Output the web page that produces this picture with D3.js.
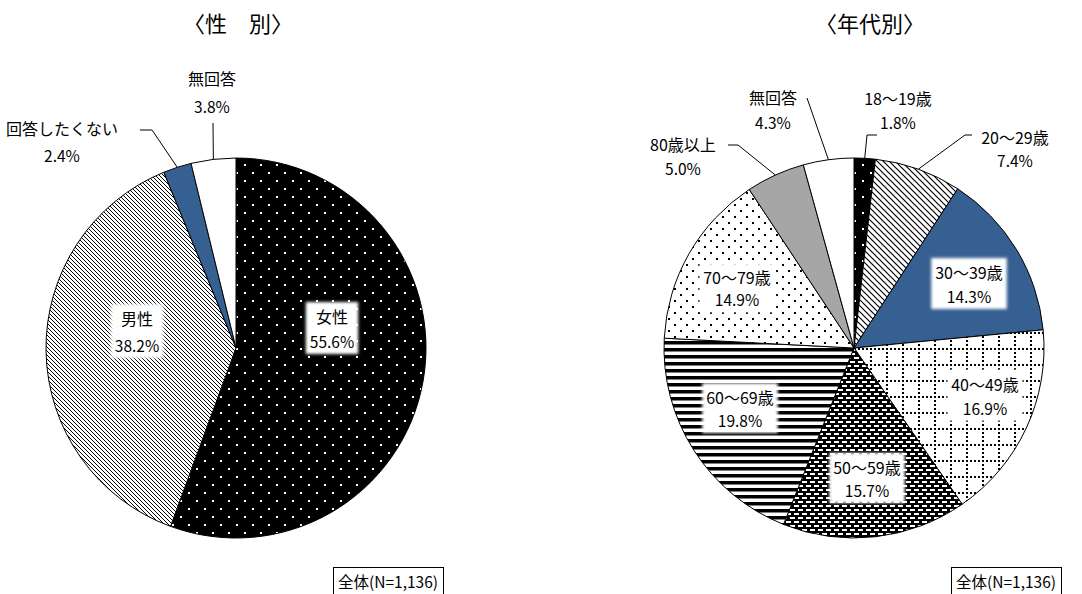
<!DOCTYPE html>
<html lang="ja">
<head>
<meta charset="utf-8">
<script src="https://cdn.jsdelivr.net/npm/d3@7/dist/d3.min.js"></script>
<style>
  html, body { margin: 0; padding: 0; background: #fff; }
  svg { display: block; font-family: "Noto Sans CJK JP", "Noto Sans", sans-serif; }
</style>
</head>
<body>
<svg id="chart" width="1082" height="594"></svg>
<script>
// Respondent breakdown (percent, N=1,136)
const genderTitle = "〈性　別〉";
const genderLabels = ["女性", "男性", "回答したくない", "無回答"];
const genderValues = [55.6, 38.2, 2.4, 3.8];

const ageTitle = "〈年代別〉";
const ageLabels = ["18〜19歳", "20〜29歳", "30〜39歳", "40〜49歳", "50〜59歳", "60〜69歳", "70〜79歳", "80歳以上", "無回答"];
const ageValues = [1.8, 7.4, 14.3, 16.9, 15.7, 19.8, 14.9, 5.0, 4.3];

const totalLabel = "全体(N=1,136)";

const svg = d3.select("#chart");
const defs = svg.append("defs");

// ---- fill patterns ----
function pattern(id, w, h, bg, draw) {
  const p = defs.append("pattern").attr("id", id)
    .attr("patternUnits", "userSpaceOnUse").attr("width", w).attr("height", h);
  p.append("rect").attr("width", w).attr("height", h).attr("fill", bg);
  draw(p);
}
// black with white dots
pattern("pDotsW", 16, 16, "#000", p => {
  p.append("rect").attr("x", 0).attr("y", 0).attr("width", 2).attr("height", 2).attr("fill", "#fff");
  p.append("rect").attr("x", 8).attr("y", 8).attr("width", 2).attr("height", 2).attr("fill", "#fff");
});
// fine downward diagonal
pattern("pDiagFine", 4, 4, "#fff", p => {
  p.append("path").attr("d", "M-1,-1L5,5M-1,3L1,5M3,-1L5,1")
    .attr("stroke", "#000").attr("stroke-width", 1.0);
});
// wide downward diagonal
pattern("pDiagWide", 6, 6, "#fff", p => {
  p.append("path").attr("d", "M-1,-1L7,7M-1,5L1,7M5,-1L7,1")
    .attr("stroke", "#000").attr("stroke-width", 1.2);
});
// dotted grid
pattern("pGrid", 16, 16, "#fff", p => {
  for (let i = 0; i < 16; i += 4) {
    p.append("rect").attr("x", i).attr("y", 0).attr("width", 2).attr("height", 2).attr("fill", "#000");
    if (i > 0) p.append("rect").attr("x", 0).attr("y", i).attr("width", 2).attr("height", 2).attr("fill", "#000");
  }
});
// black with white dashes (brick)
pattern("pDash", 8, 8, "#000", p => {
  p.append("rect").attr("x", 0).attr("y", 1).attr("width", 5).attr("height", 2).attr("fill", "#fff");
  p.append("rect").attr("x", 4).attr("y", 5).attr("width", 5).attr("height", 2).attr("fill", "#fff");
  p.append("rect").attr("x", -4).attr("y", 5).attr("width", 5).attr("height", 2).attr("fill", "#fff");
});
// horizontal stripes
pattern("pHoriz", 7, 7, "#fff", p => {
  p.append("rect").attr("x", 0).attr("y", 0).attr("width", 7).attr("height", 3.5).attr("fill", "#000");
});
// sparse black dots
pattern("pDotsB", 12, 12, "#fff", p => {
  p.append("rect").attr("x", 0).attr("y", 0).attr("width", 2).attr("height", 2).attr("fill", "#000");
  p.append("rect").attr("x", 6).attr("y", 6).attr("width", 2).attr("height", 2).attr("fill", "#000");
});

// soft white backdrop for inside labels
const glow = defs.append("filter").attr("id", "soft")
  .attr("x", "-30%").attr("y", "-30%").attr("width", "160%").attr("height", "160%");
glow.append("feGaussianBlur").attr("stdDeviation", 1.8);

const genderFills = ["url(#pDotsW)", "url(#pDiagFine)", "#376092", "#fff"];
const ageFills = ["url(#pDotsW)", "url(#pDiagWide)", "#376092", "url(#pGrid)", "url(#pDash)",
                  "url(#pHoriz)", "url(#pDotsB)", "#a6a6a6", "#fff"];

// label layout: inside labels get a soft white box, outside labels get a leader line
const genderLayout = [
  { x: 332, y: 316, gap: 25, inside: true },
  { x: 137, y: 318, gap: 27, inside: true },
  { x: 62, y: 128, gap: 27, leader: [[152, 130], [140, 130]] },
  { x: 212, y: 78, gap: 28, leader: [[213, 123]] }
];
const ageLayout = [
  { x: 898, y: 98, gap: 24, leader: [[867, 135], [877, 135]] },
  { x: 1015, y: 137, gap: 23, leader: [[965, 135], [972, 135]] },
  { x: 969, y: 272, gap: 24, inside: true },
  { x: 985, y: 384, gap: 24, inside: true },
  { x: 867, y: 467, gap: 23, inside: true },
  { x: 740, y: 397, gap: 23, inside: true },
  { x: 737, y: 277, gap: 22, inside: true },
  { x: 683, y: 144, gap: 24, leader: [[738, 145], [728, 145]] },
  { x: 773, y: 97, gap: 25, leader: [[807, 98]] }
];

function drawPie(cx, cy, r, title, titleX, labels, values, fills, layout, boxX) {
  const g = svg.append("g");
  const pie = d3.pie().sort(null).value(d => d)(values);
  const arc = d3.arc().innerRadius(0).outerRadius(r);

  const slices = g.append("g").attr("transform", `translate(${cx},${cy})`);
  slices.selectAll("path").data(pie).join("path")
    .attr("d", arc)
    .attr("fill", (d, i) => fills[i])
    .attr("stroke", "#000").attr("stroke-width", 1);

  g.append("text").attr("x", titleX).attr("y", 22)
    .attr("text-anchor", "middle").attr("dominant-baseline", "central")
    .attr("font-size", 22).attr("fill", "#000").text(title);

  pie.forEach((d, i) => {
    const L = layout[i];
    const pct = values[i].toFixed(1) + "%";
    if (L.leader) {
      const a = (d.startAngle + d.endAngle) / 2;
      const pts = [[cx + r * Math.sin(a), cy - r * Math.cos(a)], ...L.leader];
      g.append("path").attr("d", d3.line()(pts))
        .attr("fill", "none").attr("stroke", "#000").attr("stroke-width", 1);
    }
    const lg = g.append("g");
    const bg = lg.append("rect");
    const t1 = lg.append("text").attr("x", L.x).attr("y", L.y)
      .attr("text-anchor", "middle").attr("dominant-baseline", "central")
      .attr("font-size", 16).attr("fill", "#000").text(labels[i]);
    const t2 = lg.append("text").attr("x", L.x).attr("y", L.y + L.gap)
      .attr("text-anchor", "middle").attr("dominant-baseline", "central")
      .attr("font-size", 15.5).attr("fill", "#000").text(pct);
    if (L.inside) {
      const b1 = t1.node().getBBox(), b2 = t2.node().getBBox();
      const x0 = Math.min(b1.x, b2.x) - 4, x1 = Math.max(b1.x + b1.width, b2.x + b2.width) + 4;
      const y0 = b1.y - 2, y1 = b2.y + b2.height + 2;
      bg.attr("x", x0).attr("y", y0).attr("width", x1 - x0).attr("height", y1 - y0)
        .attr("fill", "#fff").attr("filter", "url(#soft)");
    } else {
      bg.remove();
    }
  });

  // sample size box
  const nb = g.append("g");
  const nt = nb.append("text").attr("x", boxX + 5).attr("y", 581)
    .attr("dominant-baseline", "central").attr("font-size", 15.5).attr("fill", "#000").text(totalLabel);
  const bb = nt.node().getBBox();
  nb.insert("rect", "text").attr("x", boxX + 0.5).attr("y", 567.5)
    .attr("width", bb.width + 10).attr("height", 30)
    .attr("fill", "#fff").attr("stroke", "#000").attr("stroke-width", 1);
}

drawPie(236, 348, 190, genderTitle, 238, genderLabels, genderValues, genderFills, genderLayout, 333);
drawPie(854, 348, 190, ageTitle, 870, ageLabels, ageValues, ageFills, ageLayout, 951);
</script>
</body>
</html>
